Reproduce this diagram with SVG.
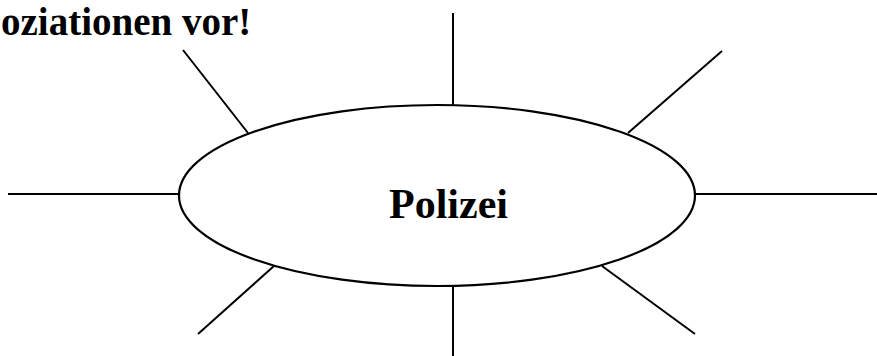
<svg xmlns="http://www.w3.org/2000/svg" width="877" height="356" viewBox="0 0 877 356">
  <style>
    .ray { stroke: #000; stroke-width: 2; fill: none; }
    .hub { stroke: #000; stroke-width: 2.2; fill: #fff; }
    .label { font-family: "Liberation Serif", "Times New Roman", serif; font-weight: bold; fill: #000; }
  </style>
  <rect width="877" height="356" fill="#fff"/>
  <text class="label" x="1" y="35" font-size="39">oziationen vor!</text>
  <g id="connectors">
    <line class="ray" x1="453" y1="13" x2="453" y2="105"/>
    <line class="ray" x1="722" y1="51" x2="628" y2="133"/>
    <line class="ray" x1="695" y1="194" x2="877" y2="194"/>
    <line class="ray" x1="602" y1="266" x2="695" y2="334"/>
    <line class="ray" x1="453" y1="286" x2="453" y2="356"/>
    <line class="ray" x1="274" y1="266" x2="198" y2="334"/>
    <line class="ray" x1="8" y1="194" x2="179" y2="194"/>
    <line class="ray" x1="183" y1="50" x2="248" y2="133"/>
  </g>
  <g id="polizei">
    <ellipse class="hub" cx="437" cy="195.5" rx="258" ry="90.5"/>
    <text class="label" x="448.5" y="217.5" font-size="42" text-anchor="middle">Polizei</text>
  </g>
</svg>
